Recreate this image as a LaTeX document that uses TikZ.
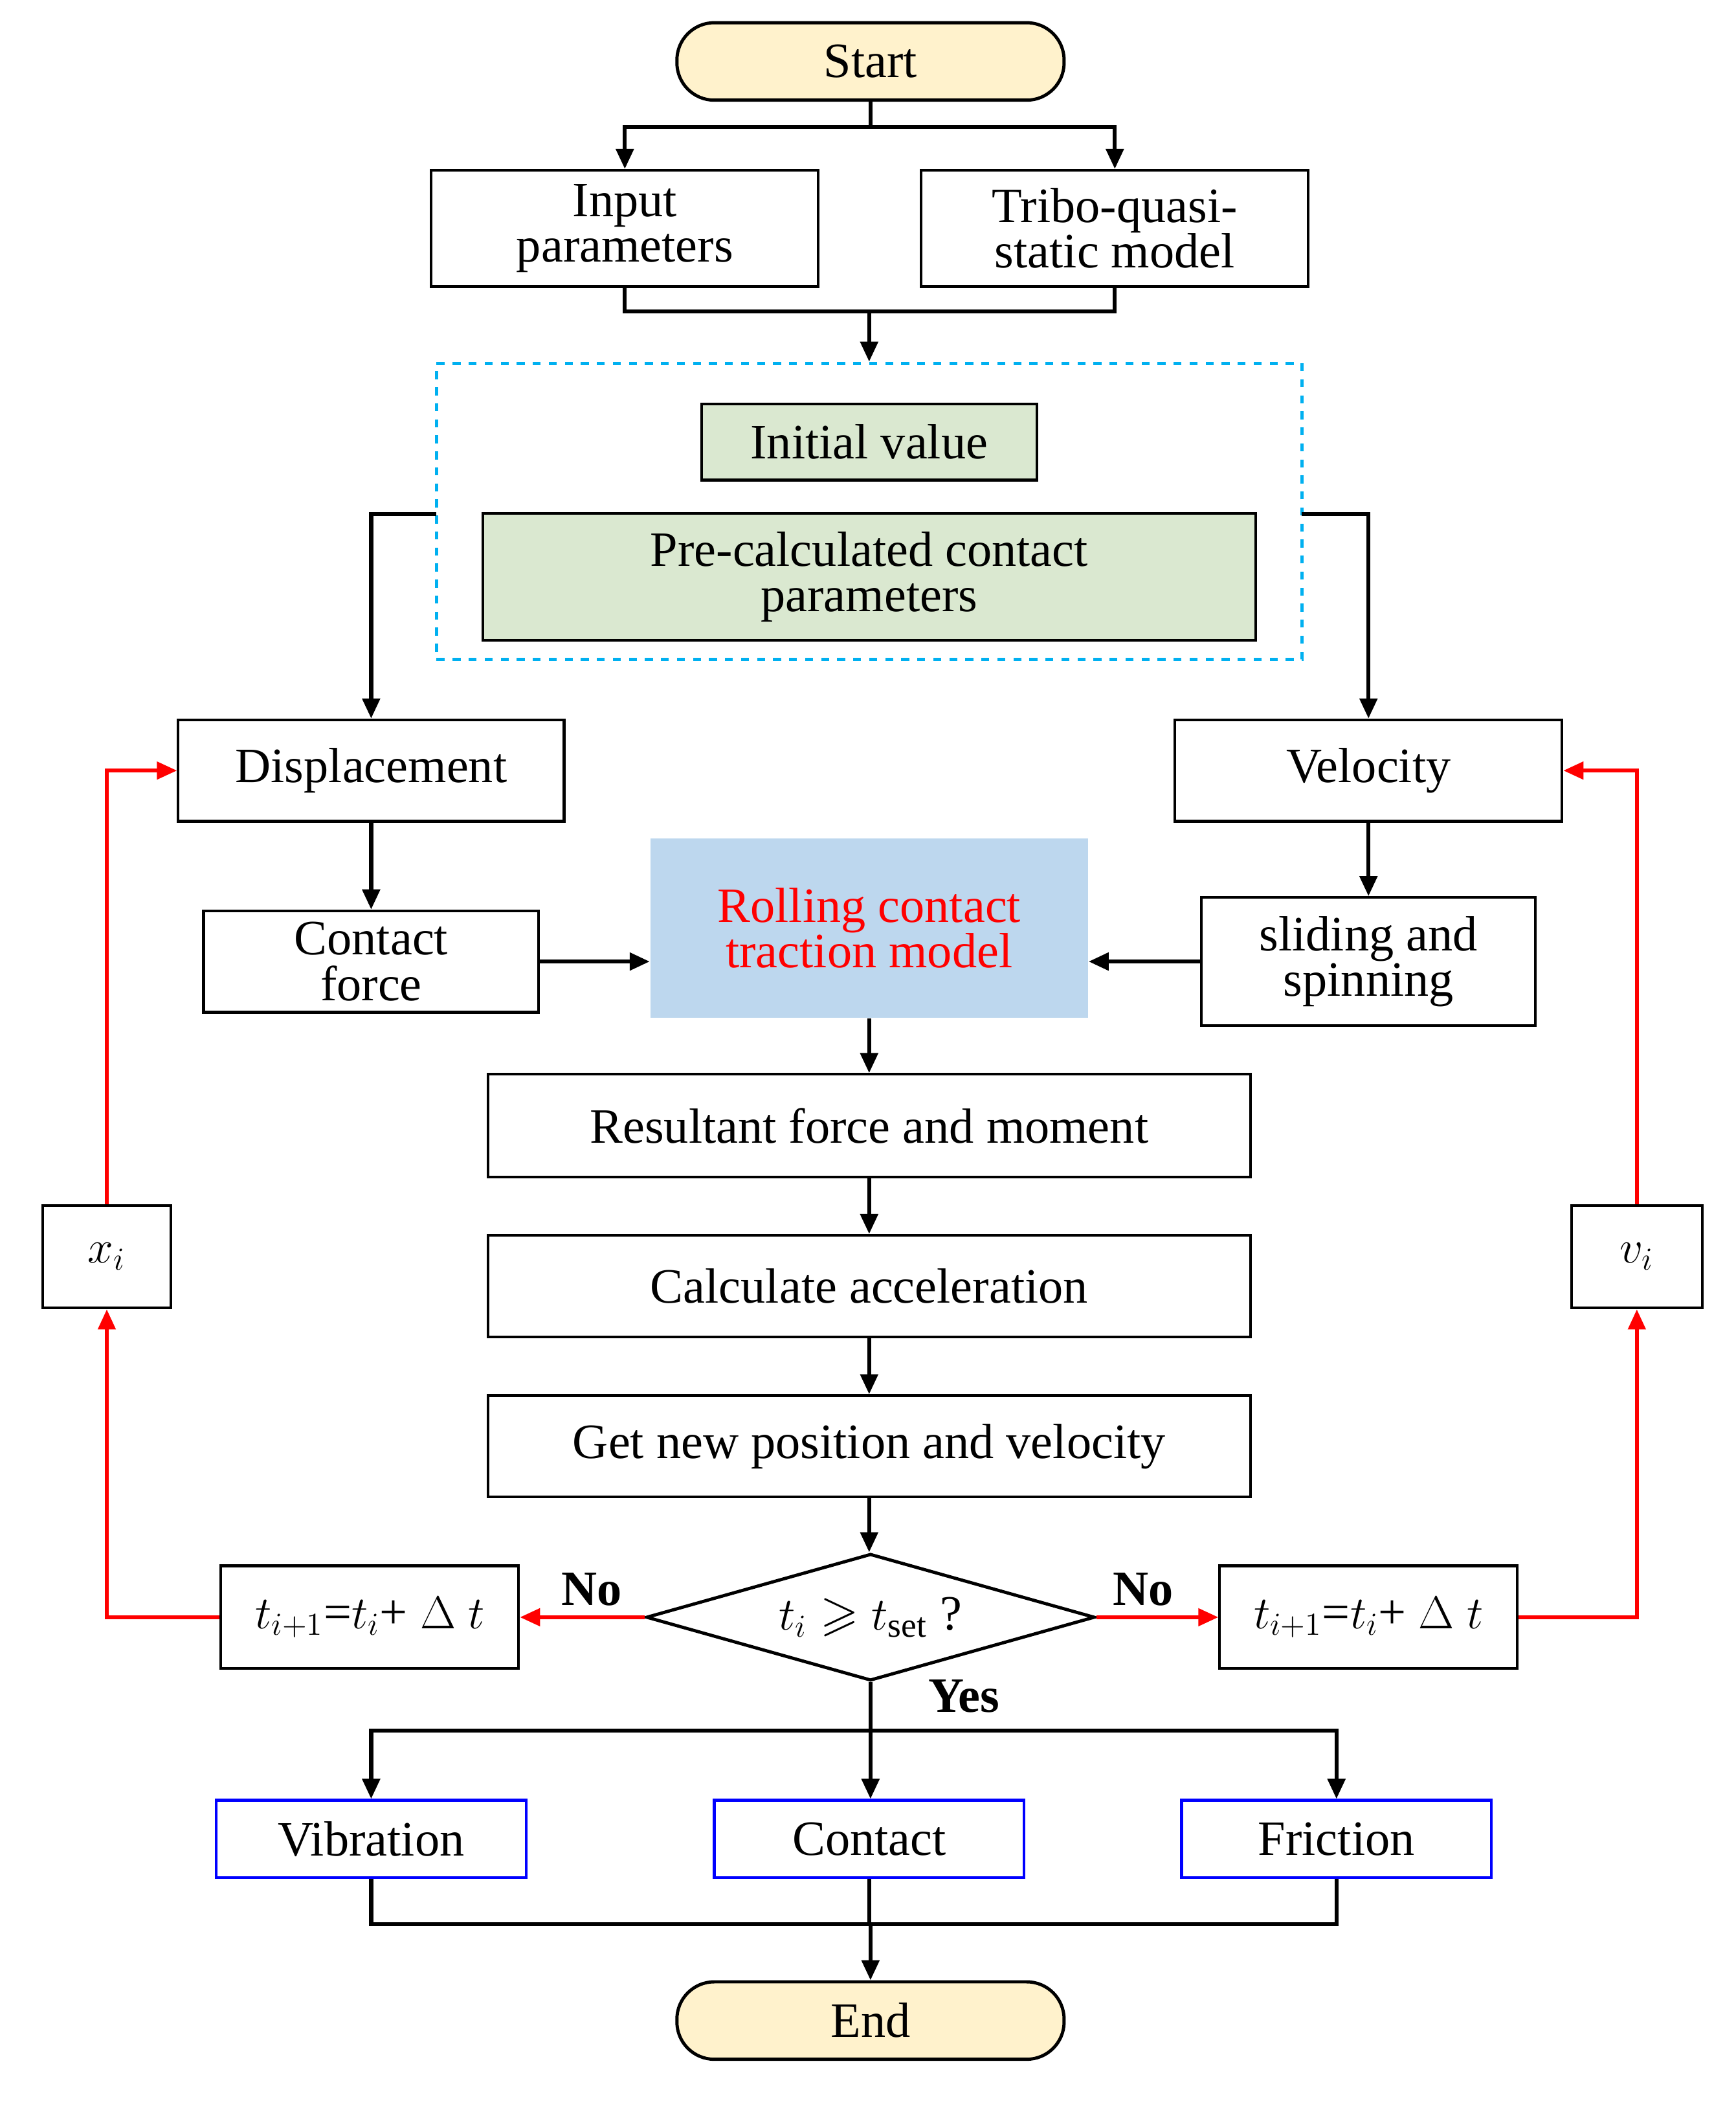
\documentclass[tikz,border=0pt]{standalone}
\usepackage{amssymb}
\usepackage{fontspec}
\setmainfont{Liberation Serif}
\usetikzlibrary{shapes.geometric,arrows.meta,calc}
\begin{document}
\begin{tikzpicture}[x=0.5pt,y=-0.5pt,
  every node/.style={font=\fontsize{18.5}{17}\selectfont, align=center, inner sep=0pt},
  box/.style={draw, line width=1pt, minimum width=#1*0.5pt},
  term/.style={draw, line width=1.2pt, rounded corners=14pt, fill={rgb,255:red,255;green,242;blue,204}, minimum width=145pt, minimum height=29pt},
  grn/.style={draw, line width=1pt, fill={rgb,255:red,218;green,232;blue,208}},
  outb/.style={draw=blue, line width=1pt, minimum width=116pt, minimum height=29pt},
  ar/.style={line width=1.5pt, -{Triangle[length=7.5pt,width=6.5pt]}},
  ln/.style={line width=1.5pt},
  rar/.style={line width=1.3pt, red, -{Triangle[length=7.5pt,width=6.5pt]}},
]
\useasboundingbox (0,0) rectangle (1300,1580);
\node[term] (start) at (652,46) {Start};
\node[box=290, minimum height=43.5pt] (inp) at (468,171) {Input\\parameters};
\node[box=290, minimum height=43.5pt] (tri) at (835,171) {Tribo-quasi-\\static model};
\node[draw={rgb,255:red,0;green,176;blue,240}, dashed, line width=1.2pt, minimum width=324pt, minimum height=111pt] (dash) at (651,383) {};
\node[grn, minimum width=125.5pt, minimum height=28.5pt] (init) at (651,331) {Initial value};
\node[grn, minimum width=289.5pt, minimum height=47.5pt] (pre) at (651,432) {Pre-calculated contact\\parameters};
\node[box=289, minimum height=38pt] (disp) at (278,577) {Displacement};
\node[box=290, minimum height=38pt] (vel) at (1025,577) {Velocity};
\node[box=251, minimum height=38pt] (cf) at (278,720) {Contact\\force};
\node[fill={rgb,255:red,189;green,215;blue,238}, text=red, minimum width=164pt, minimum height=67pt] (roll) at (651,695) {Rolling contact\\traction model};
\node[box=250, minimum height=48pt] (slid) at (1025,720) {sliding and\\spinning};
\node[box=571, minimum height=38.5pt] (res) at (651,843) {Resultant force and moment};
\node[box=571, minimum height=38pt] (calc) at (651,963) {Calculate acceleration};
\node[box=571, minimum height=38pt] (get) at (651,1083) {Get new position and velocity};
\node[draw, diamond, aspect=3.5, line width=1.2pt, minimum width=168pt, minimum height=47.5pt] (dia) at (652,1211) {$t_i \geqslant t_{\mathrm{set}}$ ?};
\node[box=223, minimum height=38.5pt] (tl) at (277,1211) {$t_{i+1}$=$t_i$+ $\Delta$ $t$};
\node[box=223, minimum height=38.5pt] (tr) at (1025,1211) {$t_{i+1}$=$t_i$+ $\Delta$ $t$};
\node[box=96, minimum height=38.5pt] (xi) at (80,941) {$x_i$};
\node[box=98, minimum height=38.5pt] (vi) at (1226,941) {$v_i$};
\node[font=\fontsize{18.5}{17}\selectfont\bfseries] (no1) at (443,1190) {No};
\node[font=\fontsize{18.5}{17}\selectfont\bfseries] (no2) at (856,1190) {No};
\node[font=\fontsize{18.5}{17}\selectfont\bfseries] (yes) at (722,1270) {Yes};
\node[outb] (vib) at (278,1377) {Vibration};
\node[outb] (con) at (651,1377) {Contact};
\node[outb] (fri) at (1001,1377) {Friction};
\node[term] (end) at (652,1513) {End};
\coordinate (s1) at (652,95);
\draw[ln] (start.south) -- (s1);
\draw[ar] (s1) -| (inp.north);
\draw[ar] (s1) -| (tri.north);
\coordinate (j1) at (651,233);
\draw[ln] (inp.south) |- (j1);
\draw[ln] (tri.south) |- (j1);
\draw[ar] (j1) -- (dash.north);
\coordinate (dl) at (327,385);
\coordinate (dr) at (975,385);
\draw[ar] (dl) -| (disp.north);
\draw[ar] (dr) -| (vel.north);
\draw[ar] (disp.south) -- (cf.north);
\draw[ar] (vel.south) -- (slid.north);
\draw[ar] (cf.east) -- (cf.east -| roll.west);
\draw[ar] (slid.west) -- (slid.west -| roll.east);
\draw[ar] (roll.south) -- (res.north);
\draw[ar] (res.south) -- (calc.north);
\draw[ar] (calc.south) -- (get.north);
\draw[ar] (get.south) -- (get.south |- dia.north);
\draw[rar] (dia.west) -- (tl.east);
\draw[rar] (dia.east) -- (tr.west);
\draw[rar] (tl.west) -| (xi.south);
\draw[rar] (xi.north) |- (disp.west);
\draw[rar] (tr.east) -| (vi.south);
\draw[rar] (vi.north) |- (vel.east);
\coordinate (j2) at (652,1296);
\draw[ln] (dia.south) -- (j2);
\draw[ar] (j2) -| (vib.north);
\draw[ar] (j2) -| (fri.north);
\draw[ar] (j2) -- (j2 |- con.north);
\coordinate (j3) at (652,1441);
\draw[ln] (vib.south) |- (j3);
\draw[ln] (fri.south) |- (j3);
\draw[ln] (con.south |- j3) -- (con.south);
\draw[ar] (j3) -- (end.north);
\end{tikzpicture}
\end{document}
